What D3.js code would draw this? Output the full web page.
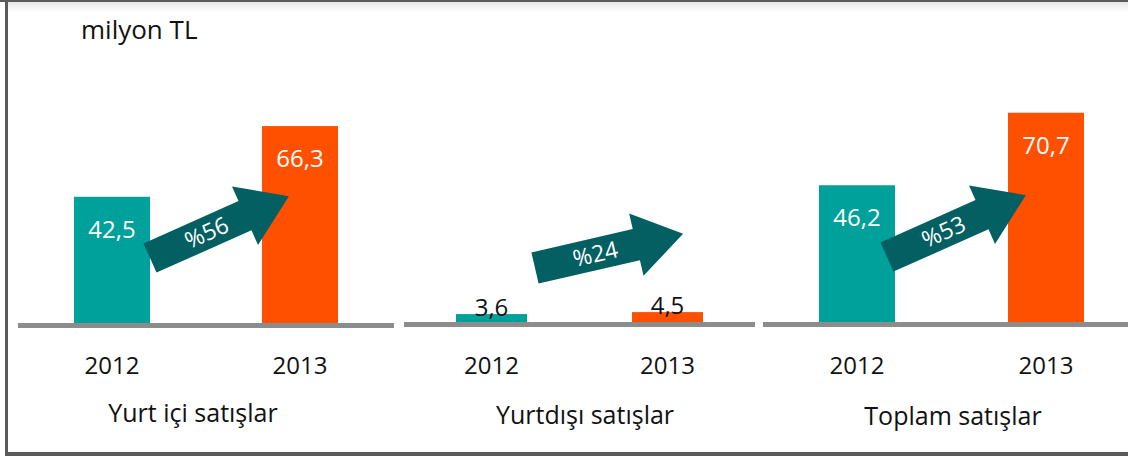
<!DOCTYPE html>
<html>
<head>
<meta charset="utf-8">
<script src="https://cdn.jsdelivr.net/npm/d3@7"></script>
<style>
  body { margin: 0; background: #fff; }
  svg { display: block; font-family: "Open Sans", "Noto Sans", sans-serif; }
</style>
</head>
<body>
<svg id="chart" width="1128" height="456"></svg>
<script>
// chart values
var categories = ["Yurt içi satışlar", "Yurtdışı satışlar", "Toplam satışlar"];
var years = ["2012", "2013"];
var values2012 = [42.5, 3.6, 46.2];
var values2013 = [66.3, 4.5, 70.7];
var growth = ["%56", "%24", "%53"];
var unitLabel = "milyon TL";

// layout of the three small panels (pixels)
var panels = [
  {lineX: [18, 394],  base: 323, bars: [112, 300],   barW: 76, pxPerUnit: 2.97, label: 193, inside: true,  arrow: {dx: 0,   up: 65, angle: -24}},
  {lineX: [404, 755], base: 322, bars: [491.5, 667.5], barW: 71, pxPerUnit: 2.2,  label: 585, inside: false, arrow: {dx: 8, up: 54, angle: -13}},
  {lineX: [763, 1128], base: 322, bars: [857, 1046], barW: 76, pxPerUnit: 2.96, label: 953, inside: true,  arrow: {dx: -8, up: 65, angle: -24}}
];

var colors = {"2012": "#00a19a", "2013": "#ff5000"};
var arrowColor = "#035f62";
var lineColor = "#8c8c8c";

var svg = d3.select("#chart");

// frame
svg.append("rect").attr("x", 0).attr("y", 0).attr("width", 1128).attr("height", 2).attr("fill", "#5a5a5a");
var grad = svg.append("defs").append("linearGradient").attr("id", "topShade")
  .attr("x1", 0).attr("y1", 0).attr("x2", 0).attr("y2", 1);
grad.append("stop").attr("offset", 0).attr("stop-color", "#e6e6e6");
grad.append("stop").attr("offset", 1).attr("stop-color", "#ffffff");
svg.append("rect").attr("x", 8).attr("y", 2).attr("width", 1120).attr("height", 10).attr("fill", "url(#topShade)");
svg.append("rect").attr("x", 5).attr("y", 0).attr("width", 3).attr("height", 456).attr("fill", "#5a5a5a");
svg.append("rect").attr("x", 5).attr("y", 452).attr("width", 1123).attr("height", 4).attr("fill", "#5a5a5a");

svg.append("text")
  .attr("x", 81).attr("y", 39)
  .attr("font-size", 26).attr("fill", "#111")
  .text(unitLabel);

categories.forEach(function (cat, i) {
  var p = panels[i];
  var vals = [values2012[i], values2013[i]];

  var x = d3.scaleOrdinal().domain(years).range(p.bars);
  var y = d3.scaleLinear().domain([0, 100]).range([p.base, p.base - 100 * p.pxPerUnit]);

  var g = svg.append("g");

  // bars
  g.selectAll("rect.bar")
    .data(years)
    .join("rect")
    .attr("class", "bar")
    .attr("x", function (d) { return x(d) - p.barW / 2; })
    .attr("y", function (d, j) { return y(vals[j]); })
    .attr("width", p.barW)
    .attr("height", function (d, j) { return y(0) - y(vals[j]); })
    .attr("fill", function (d) { return colors[d]; });

  // baseline
  g.append("rect")
    .attr("x", p.lineX[0]).attr("y", p.base)
    .attr("width", p.lineX[1] - p.lineX[0]).attr("height", 5)
    .attr("fill", lineColor);

  // value labels
  g.selectAll("text.val")
    .data(years)
    .join("text")
    .attr("class", "val")
    .attr("x", function (d) { return x(d); })
    .attr("y", function (d, j) { return p.inside ? y(vals[j]) + 41 : y(vals[j]) + 2; })
    .attr("text-anchor", "middle")
    .attr("font-size", 24)
    .attr("fill", p.inside ? "#fff" : "#111")
    .text(function (d, j) { return d3.format(".1f")(vals[j]).replace(".", ","); });

  // year labels
  g.selectAll("text.year")
    .data(years)
    .join("text")
    .attr("class", "year")
    .attr("x", function (d) { return x(d); })
    .attr("y", 374)
    .attr("text-anchor", "middle")
    .attr("font-size", 24)
    .attr("fill", "#111")
    .text(function (d) { return d; });

  // category label
  g.append("text")
    .attr("x", p.label).attr("y", 422 + i * 1.5)
    .attr("text-anchor", "middle")
    .attr("font-size", 25)
    .attr("fill", "#111")
    .text(cat);

  // growth arrow, from the 2012 bar toward the 2013 bar
  var tx = x("2012") + p.barW / 2 + p.arrow.dx;
  var ty = p.base - p.arrow.up;
  var L = 152, hw = 16, headW = 32, headL = 48;
  var pts = [[0, -hw], [L - headL, -hw], [L - headL, -headW], [L, 0], [L - headL, headW], [L - headL, hw], [0, hw]];
  var ag = g.append("g")
    .attr("transform", "translate(" + tx + "," + ty + ") rotate(" + p.arrow.angle + ")");
  ag.append("path")
    .attr("d", d3.line()(pts) + "Z")
    .attr("fill", arrowColor);
  ag.append("text")
    .attr("x", 62).attr("y", 8)
    .attr("text-anchor", "middle")
    .attr("font-size", 23)
    .attr("fill", "#fff")
    .text(growth[i]);
});
</script>
</body>
</html>
